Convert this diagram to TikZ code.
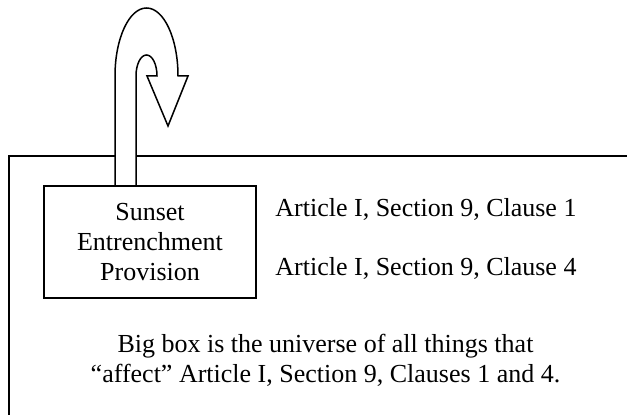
\documentclass[tikz,border=0pt]{standalone}
\usepackage{fontspec}
\setmainfont{Liberation Serif}
\usepackage{tikz}

\tikzset{
  txt/.style={font=\fontsize{13}{15}\selectfont, inner sep=0pt},
  provbox/.style={draw, line width=0.9pt, minimum width=106pt, minimum height=56pt, align=center}
}

\begin{document}
\begin{tikzpicture}[x=0.5pt,y=0.5pt]
    \useasboundingbox (0,0) rectangle (627,415);
    % the big box, open to the right and below
    \draw[line width=0.9pt] (627,259) -- (9,259) -- (9,0);

    \node[provbox, txt] (prov) at (150,173) {Sunset\\Entrenchment\\Provision};
    \node[txt, anchor=base west] (clauseone) at (275,198) {Article I, Section 9, Clause 1};
    \node[txt, anchor=base west] (clausefour) at (275,139) {Article I, Section 9, Clause 4};
    \node[txt, align=center] (universe) at (325.5,55) {Big box is the universe of all things that\\``affect'' Article I, Section 9, Clauses 1 and 4.};

    % hooked arrow out of the provision
    \draw[line width=0.75pt, fill=white] (115,229) -- (115,339)
        arc[start angle=180, end angle=0, x radius=15.75pt, y radius=34pt]
        -- (188,339) -- (168,289) -- (147,339) -- (157,339)
        arc[start angle=0, end angle=180, x radius=5.25pt, y radius=10.5pt]
        -- (136,229) -- cycle;
\end{tikzpicture}
\end{document}
